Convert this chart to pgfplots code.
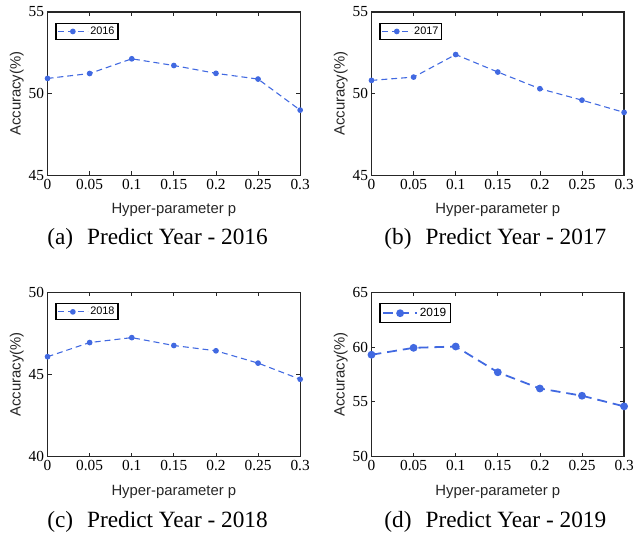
\documentclass[border=0pt]{standalone}
\usepackage{fontspec}
\setmainfont{Liberation Serif}
\newfontfamily\arial{Liberation Sans}
\usepackage{pgfplots}
\pgfplotsset{compat=1.18}

\definecolor{lineblue}{RGB}{65,105,225}
\definecolor{labgray}{RGB}{38,38,38}

\pgfplotsset{
  panel/.style={
    width=255pt, height=165pt, scale only axis,
    anchor=south west,
    xmin=0, xmax=0.3,
    xtick={0,0.05,0.1,0.15,0.2,0.25,0.3},
    xticklabels={0,0.05,0.1,0.15,0.2,0.25,0.3},
    tick align=inside, tick pos=both,
    major tick length=4pt,
    axis line style={line width=1.3pt, draw=labgray},
    every tick/.style={line width=0.8pt, draw=labgray},
    /pgf/number format/assume math mode=true,
    tick label style={font=\fontsize{15.5}{16}\selectfont},
    xlabel={Hyper-parameter p},
    ylabel={Accuracy(\%)},
    label style={font=\arial\fontsize{15}{16}\selectfont, text=labgray},
    xlabel style={at={(axis description cs:0.5,-0.212)}, anchor=center},
    ylabel style={at={(axis description cs:-0.122,0.5)}, anchor=center},
    legend style={at={(axis description cs:0.031,0.933)}, anchor=north west,
      draw=black, line width=1.2pt, font=\arial\fontsize{11}{12}\selectfont,
      inner sep=1.5pt, row sep=0pt},
    legend cell align=left,
    legend image code/.code={\draw[mark repeat=2,mark phase=2,#1] plot coordinates {(0pt,0pt) (15pt,0pt) (30pt,0pt)};},
  },
  ser/.style={color=lineblue, line width=1.1pt, dash pattern=on 6pt off 4pt,
    mark=*, mark size=2.3pt, mark options={solid, fill=lineblue}},
}
\tikzset{subcap/.style={font=\fontsize{23.5}{25}\selectfont}}

\begin{document}
\begin{tikzpicture}
\path (0pt,0pt) rectangle (637pt,-541pt);

% (a)
\begin{axis}[panel, at={(48pt,-177pt)}, ymin=45, ymax=55, ytick={45,50,55}]
\addplot[ser] coordinates {(0,50.93) (0.05,51.23) (0.1,52.13) (0.15,51.72) (0.2,51.24) (0.25,50.89) (0.3,48.99)};
\addlegendentry{2016}
\end{axis}
\node[subcap] at (159pt,-241pt) {(a)\hspace{0.6em}Predict Year - 2016};

% (b)
\begin{axis}[panel, at={(375pt,-177pt)}, ymin=45, ymax=55, ytick={45,50,55}]
\addplot[ser] coordinates {(0,50.81) (0.05,51.01) (0.1,52.39) (0.15,51.32) (0.2,50.30) (0.25,49.60) (0.3,48.85)};
\addlegendentry{2017}
\end{axis}
\node[subcap] at (500pt,-241pt) {(b)\hspace{0.6em}Predict Year - 2017};

% (c)
\begin{axis}[panel, at={(48pt,-461pt)}, height=166pt, ymin=40, ymax=50, ytick={40,45,50}]
\addplot[ser] coordinates {(0,46.08) (0.05,46.94) (0.1,47.24) (0.15,46.76) (0.2,46.44) (0.25,45.69) (0.3,44.71)};
\addlegendentry{2018}
\end{axis}
\node[subcap] at (159pt,-527pt) {(c)\hspace{0.6em}Predict Year - 2018};

% (d)
\begin{axis}[panel, at={(375pt,-461pt)}, height=166pt, ymin=50, ymax=65, ytick={50,55,60,65},
  legend style={font=\arial\fontsize{12}{13}\selectfont, inner sep=2.5pt},
  legend image code/.code={\draw[mark repeat=2,mark phase=2,#1] plot coordinates {(0pt,0pt) (17pt,0pt) (34pt,0pt)};}]
\addplot[ser, line width=1.8pt, dash pattern=on 10pt off 6pt, mark size=3pt] coordinates {(0,59.30) (0.05,59.93) (0.1,60.05) (0.15,57.70) (0.2,56.22) (0.25,55.56) (0.3,54.59)};
\addlegendentry{2019}
\end{axis}
\node[subcap] at (500pt,-527pt) {(d)\hspace{0.6em}Predict Year - 2019};
\end{tikzpicture}
\end{document}
